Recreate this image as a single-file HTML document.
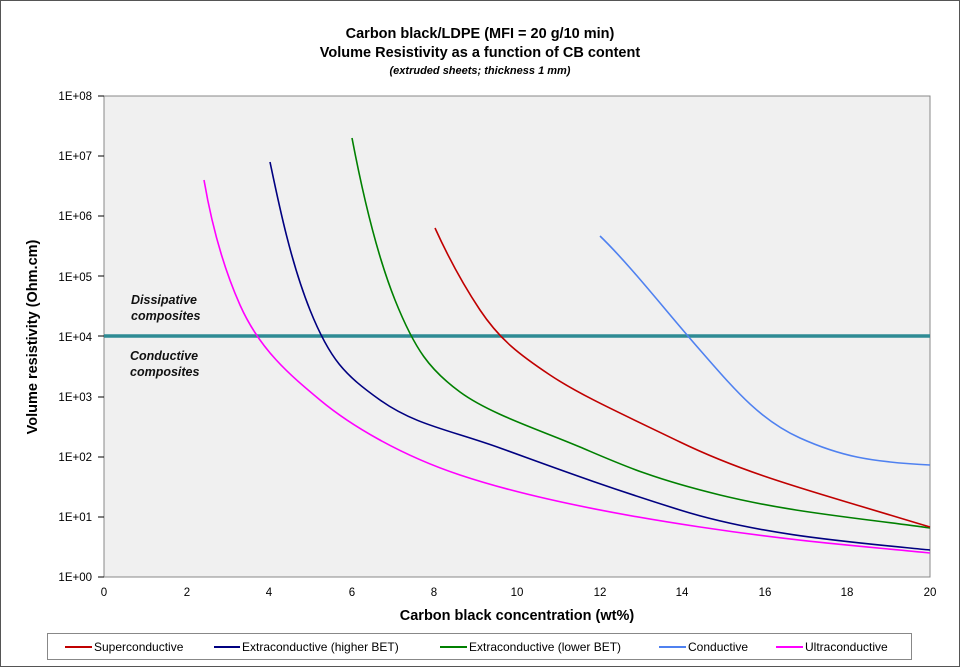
<!DOCTYPE html>
<html><head><meta charset="utf-8"><style>
body{margin:0;background:#fff}
svg{display:block;font-family:"Liberation Sans",Arial,sans-serif}
</style></head><body>
<svg width="960" height="667" viewBox="0 0 960 667" xmlns="http://www.w3.org/2000/svg">
<rect x="0.5" y="0.5" width="959" height="666" fill="#fff" stroke="#555"/>
<g text-anchor="middle" font-weight="bold" fill="#000">
<text x="480" y="38" font-size="14.5">Carbon black/LDPE (MFI = 20 g/10 min)</text>
<text x="480" y="57" font-size="14.5">Volume Resistivity as a function of CB content</text>
<text x="480" y="74" font-size="11" font-style="italic">(extruded sheets; thickness 1 mm)</text>
</g>
<rect x="104" y="96" width="826" height="481" fill="#f0f0f0" stroke="#888"/>
<g font-size="11.5" text-anchor="end" fill="#000">
<text x="92" y="100">1E+08</text><text x="92" y="160">1E+07</text><text x="92" y="220">1E+06</text>
<text x="92" y="281">1E+05</text><text x="92" y="341">1E+04</text><text x="92" y="401">1E+03</text>
<text x="92" y="461">1E+02</text><text x="92" y="521">1E+01</text><text x="92" y="581">1E+00</text>
</g>
<g stroke="#000" stroke-width="1">
<line x1="98" y1="96" x2="104" y2="96"/><line x1="98" y1="156" x2="104" y2="156"/><line x1="98" y1="216" x2="104" y2="216"/>
<line x1="98" y1="276" x2="104" y2="276"/><line x1="98" y1="336" x2="104" y2="336"/><line x1="98" y1="397" x2="104" y2="397"/>
<line x1="98" y1="457" x2="104" y2="457"/><line x1="98" y1="517" x2="104" y2="517"/><line x1="98" y1="577" x2="104" y2="577"/>
</g>
<g font-size="11.5" text-anchor="middle">
<text x="104" y="596">0</text><text x="187" y="596">2</text><text x="269" y="596">4</text><text x="352" y="596">6</text>
<text x="434" y="596">8</text><text x="517" y="596">10</text><text x="600" y="596">12</text><text x="682" y="596">14</text>
<text x="765" y="596">16</text><text x="847" y="596">18</text><text x="930" y="596">20</text>
</g>
<text x="517" y="620" font-size="14.5" font-weight="bold" text-anchor="middle">Carbon black concentration (wt%)</text>
<text transform="translate(37,337) rotate(-90)" font-size="14.5" font-weight="bold" text-anchor="middle">Volume resistivity (Ohm.cm)</text>
<line x1="104" y1="336" x2="930" y2="336" stroke="#2e8b94" stroke-width="3.5"/>
<g font-size="12.5" font-weight="bold" font-style="italic" fill="#111">
<text x="131" y="304">Dissipative</text><text x="131" y="320">composites</text>
<text x="130" y="360">Conductive</text><text x="130" y="376">composites</text>
</g>
<g fill="none" stroke-width="1.6">
<path stroke="#ff00ff" d="M204,180 C210,215 220,260 240,305 S290,375 320,400 S400,455 460,475 S600,512 700,527 S860,546 930,553"/>
<path stroke="#000080" d="M270,162 C278,200 290,260 310,310 S345,375 380,400 S450,430 500,448 S600,485 680,510 S850,542 930,550"/>
<path stroke="#008000" d="M352,138 C360,180 375,250 395,300 S430,370 460,392 S540,430 580,447 S650,478 720,495 S850,517 930,528"/>
<path stroke="#c00000" d="M435,228 C445,250 460,280 480,310 S520,355 550,375 S620,413 680,442 S800,488 860,506 S910,521 930,527"/>
<path stroke="#4f81f0" d="M600,236 C630,265 665,310 700,350 S760,420 800,438 S870,462 930,465"/>
</g>
<rect x="47.5" y="633.5" width="864" height="26" fill="#fff" stroke="#888"/>
<g font-size="12" stroke-width="2">
<line x1="65" y1="647" x2="92" y2="647" stroke="#c00000"/><text x="94" y="651">Superconductive</text>
<line x1="214" y1="647" x2="240" y2="647" stroke="#000080"/><text x="242" y="651">Extraconductive (higher BET)</text>
<line x1="440" y1="647" x2="467" y2="647" stroke="#008000"/><text x="469" y="651">Extraconductive (lower BET)</text>
<line x1="659" y1="647" x2="686" y2="647" stroke="#4f81f0"/><text x="688" y="651">Conductive</text>
<line x1="776" y1="647" x2="803" y2="647" stroke="#ff00ff"/><text x="805" y="651">Ultraconductive</text>
</g>
</svg>
</body></html>
